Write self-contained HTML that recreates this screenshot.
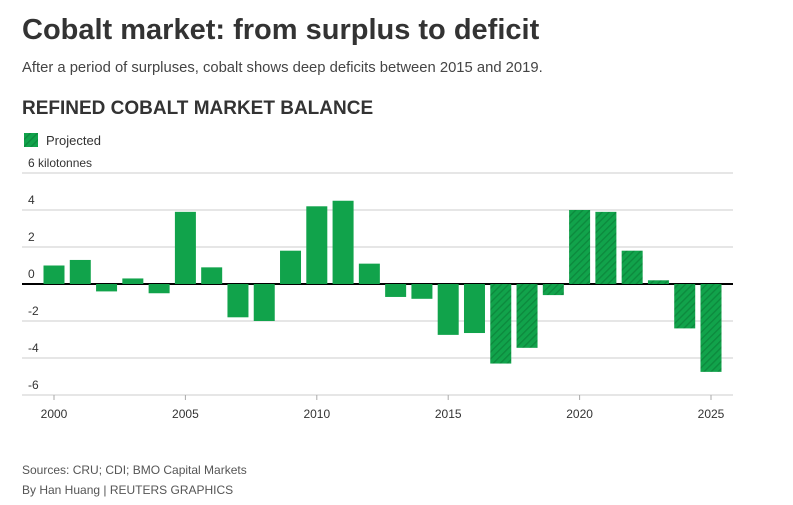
<!DOCTYPE html>
<html><head><meta charset="utf-8"><style>
body{margin:0;background:#fff;font-family:"Liberation Sans",sans-serif;color:#333;width:793px;height:505px;overflow:hidden;position:relative}
.t{position:absolute;white-space:nowrap}
</style></head><body>
<div class="t" style="left:22px;top:14px;font-size:29px;font-weight:bold;color:#333">Cobalt market: from surplus to deficit</div>
<div class="t" style="left:22px;top:60px;font-size:14.8px;color:#444">After a period of surpluses, cobalt shows deep deficits between 2015 and 2019.</div>
<div class="t" style="left:22px;top:98px;font-size:19px;font-weight:bold;color:#333">REFINED COBALT MARKET BALANCE</div>
<div class="t" style="left:22px;top:463px;font-size:12px;color:#555">Sources: CRU; CDI; BMO Capital Markets</div>
<div class="t" style="left:22px;top:483px;font-size:12px;color:#555">By Han Huang | REUTERS GRAPHICS</div>
<svg id="c" width="793" height="505" style="position:absolute;left:0;top:0">
<defs><pattern id="h" width="5" height="5" patternUnits="userSpaceOnUse" patternTransform="rotate(45)"><rect width="5" height="5" fill="#11a34b"/><rect width="1.4" height="5" fill="#0d8a3e"/></pattern></defs>
</svg>
<script>
const years=[2000,2001,2002,2003,2004,2005,2006,2007,2008,2009,2010,2011,2012,2013,2014,2015,2016,2017,2018,2019,2020,2021,2022,2023,2024,2025];
const balance=[1.0,1.3,-0.4,0.3,-0.5,3.9,0.9,-1.8,-2.0,1.8,4.2,4.5,1.1,-0.7,-0.8,-2.75,-2.65,-4.3,-3.45,-0.6,4.0,3.9,1.8,0.2,-2.4,-4.75];
const projectedFrom=2017;
const yTicks=[6,4,2,0,-2,-4,-6];
const yTickLabels=["6 kilotonnes","4","2","0","-2","-4","-6"];
const xTicks=[2000,2005,2010,2015,2020,2025];
const svg=document.getElementById('c');const NS='http://www.w3.org/2000/svg';
const y=v=>284-v*18.5;const x=yr=>54+(yr-2000)*26.28;
function mk(t,a){const e=document.createElementNS(NS,t);for(const k in a)e.setAttribute(k,a[k]);svg.appendChild(e);return e;}
yTicks.forEach((v,i)=>{
 const l=mk('line',{x1:22,x2:733,y1:y(v),y2:y(v),stroke:v===0?'#000':'#ccc','stroke-width':v===0?2:1});
 
 
 const t=mk('text',{x:28,y:y(v)-6,'font-size':12,fill:'#333','font-family':'Liberation Sans,sans-serif'});
 t.textContent=yTickLabels[i];
 
 
});
years.forEach((yr,i)=>{
 const v=balance[i];const top=Math.min(y(v),y(0)),h=Math.abs(y(v)-y(0));
 const r=mk('rect',{x:x(yr)-10.5,y:top,width:21,height:h,fill:yr>=projectedFrom?'url(#h)':'#11a34b'});
 
 
});
xTicks.forEach(yr=>{
 const l=mk('line',{x1:x(yr),x2:x(yr),y1:395,y2:400,stroke:'#aaa'});
 
 
 const t=mk('text',{x:x(yr),y:418,'font-size':12,fill:'#333','text-anchor':'middle','font-family':'Liberation Sans,sans-serif'});
 t.textContent=yr;
 
 
});
const lg=mk('rect',{x:24,y:133,width:14,height:14,fill:'url(#h)'});


const lt=mk('text',{x:46,y:145,'font-size':13,fill:'#333','font-family':'Liberation Sans,sans-serif'});
lt.textContent='Projected';


</script>
</body></html>
